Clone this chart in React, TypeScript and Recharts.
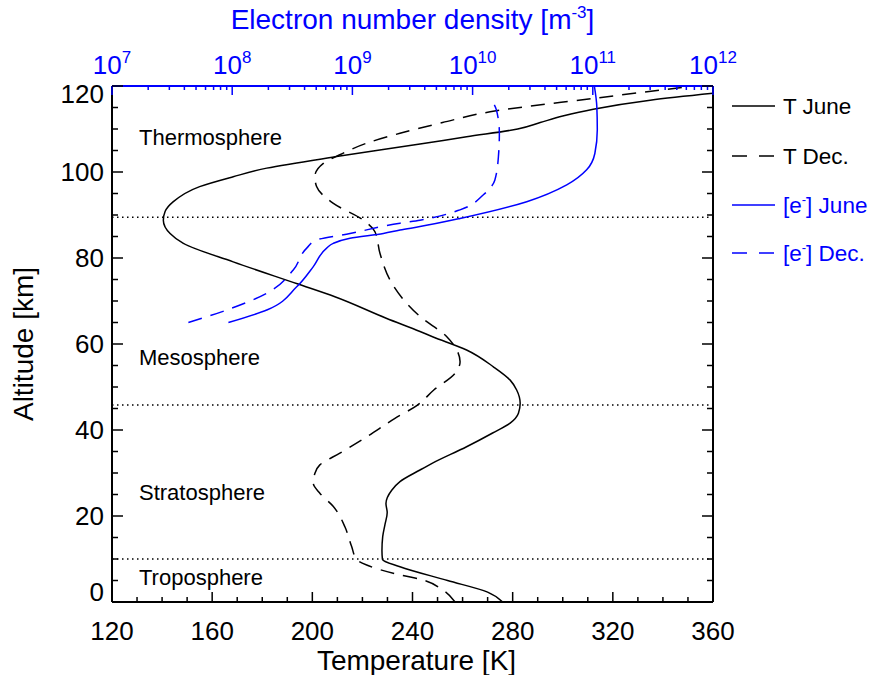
import React from 'react';
import { ComposedChart, Line, XAxis, YAxis, ReferenceLine } from 'recharts';

const BLUE = '#0000ff';
const FONT = '"Liberation Sans", Arial, Helvetica, sans-serif';

// ---- Temperature, June (altitude km / temperature K)
const tJuneAlt = [0, 2.3, 5, 8.2, 9.9, 12, 15.2, 18, 20.8, 22.9, 26, 28, 30.7, 32.3, 36.1, 39.3, 41.6, 43.9, 46.2, 49.3, 51.6, 54.7, 58.6, 61.7, 62.9, 66, 71, 74, 79.1, 83.4, 85.7, 88.8, 90.8, 93.1, 96.6, 98.9, 100.9, 103.7, 106.5, 108.2, 110, 111.5, 113, 114.6, 116.7, 118.3];
const tJuneK = [276, 270, 254, 235, 228, 227.8, 228.1, 229, 229.9, 229.4, 231.7, 235, 243, 248, 261.6, 272, 279, 282.3, 283, 281.6, 279, 272.3, 261.6, 248, 243, 229.5, 209, 194, 168.4, 148.5, 143.2, 140.5, 141.2, 144.5, 155, 168.4, 181.8, 211, 243, 261.6, 282, 291, 300, 312.2, 334.9, 360];

// ---- Temperature, December
const tDecAlt = [0, 2.8, 5.3, 6.3, 8.6, 9.9, 12.9, 17.5, 22.2, 25.3, 27.6, 29.9, 31.9, 34.6, 38.4, 42.7, 45.8, 49.3, 53.2, 55.9, 58.6, 61.7, 66.4, 70.6, 74.9, 81.1, 86.1, 88.8, 92.7, 96.6, 98.9, 102, 104, 106.7, 109, 111.5, 114, 117.1, 119.8];
const tDecK = [257, 252, 243, 235, 221.7, 217.7, 215.7, 213, 208.4, 203, 200.4, 201, 203, 211, 221.7, 233, 242, 248.5, 257, 259, 257.7, 253.7, 243, 236, 231, 227, 225, 220.4, 208.4, 201.7, 201, 204.4, 211, 221.7, 235, 252, 271, 312, 349.5];

// ---- Electron number density, June (m^-3)
const eJuneAlt = [65, 67.9, 73.3, 78, 82.3, 83.4, 84.6, 85.7, 86.5, 87.3, 89.2, 93.1, 97, 100.5, 104.3, 109.8, 115.2, 120];
const eJuneNe = [9.3e7, 1.94e8, 3.44e8, 4.73e8, 6.11e8, 6.93e8, 9.55e8, 1.81e9, 2.49e9, 3.65e9, 7.85e9, 2.82e10, 6.07e10, 8.89e10, 1.04e11, 1.09e11, 1.08e11, 1.03e11];

// ---- Electron number density, December
const eDecAlt = [65, 67.9, 71.8, 77.2, 82.3, 84.2, 85.7, 88.1, 88.8, 91.2, 94.7, 98.1, 103.6, 109, 114.4, 116.7];
const eDecNe = [4.32e7, 9.0e7, 1.94e8, 3.22e8, 4.17e8, 5.05e8, 9.55e8, 2.49e9, 3.65e9, 7.85e9, 1.23e10, 1.53e10, 1.64e10, 1.67e10, 1.58e10, 1.44e10];

// ---- Axes
const tempMajor = [120, 160, 200, 240, 280, 320, 360];
const altMajor = [0, 20, 40, 60, 80, 100, 120];
const neDecades = [7, 8, 9, 10, 11, 12];

// ---- Annotations
const regionNames = ['Thermosphere', 'Mesosphere', 'Stratosphere', 'Troposphere'];
const regionAlts = [108, 57, 25.6, 5.8];
const boundaryAlts = [89.5, 45.8, 10];

const legendLabels = ['T June', 'T Dec.', '[e] June', '[e] Dec.'];

const tempTicks: number[] = [];
for (let t = 120; t <= 360; t += 10) tempTicks.push(t);
const altTicks: number[] = [];
for (let a = 0; a <= 120; a += 5) altTicks.push(a);
const neTicks: number[] = [];
neDecades.forEach((d, i) => {
  if (i < neDecades.length - 1) {
    for (let m = 1; m <= 9; m++) neTicks.push(m * Math.pow(10, d));
  } else neTicks.push(Math.pow(10, d));
});

const zip = (alts: number[], vals: number[]) => alts.map((alt, i) => ({ alt, v: vals[i] }));
const tJuneData = zip(tJuneAlt, tJuneK);
const tDecData = zip(tDecAlt, tDecK);
const eJuneData = zip(eJuneAlt, eJuneNe);
const eDecData = zip(eDecAlt, eDecNe);

const BottomTick = (props: any) => {
  const { x, y, payload } = props;
  const v = payload.value;
  const major = tempMajor.includes(v);
  return (
    <g>
      <line x1={x} x2={x} y1={y} y2={y - (major ? 10 : 5)} stroke="#000" strokeWidth={1.5} />
      {major && (
        <text x={x} y={y + 38} textAnchor="middle" fontSize={26} fill="#000" fontFamily={FONT}>
          {v}
        </text>
      )}
    </g>
  );
};

const TopTick = (props: any) => {
  const { x, y, payload } = props;
  const v = payload.value;
  const lg = Math.log10(v);
  const major = Math.abs(lg - Math.round(lg)) < 1e-6;
  return (
    <g>
      <line x1={x} x2={x} y1={y} y2={y + (major ? 9 : 4)} stroke={BLUE} strokeWidth={1.5} />
      {major && (
        <text x={x} y={y - 12} textAnchor="middle" fontSize={26} fill={BLUE} fontFamily={FONT}>
          10
          <tspan dy={-11} fontSize={17}>{Math.round(lg)}</tspan>
        </text>
      )}
    </g>
  );
};

const LeftTick = (props: any) => {
  const { x, y, payload } = props;
  const v = payload.value;
  const major = altMajor.includes(v);
  const shift = v === 120 ? 8 : v === 0 ? -10 : 0;
  return (
    <g>
      <line x1={x} x2={x + (major ? 11 : 6)} y1={y} y2={y} stroke="#000" strokeWidth={1.5} />
      {major && (
        <text x={x - 8} y={y + shift + 9} textAnchor="end" fontSize={26} fill="#000" fontFamily={FONT}>
          {v}
        </text>
      )}
    </g>
  );
};

const RightTick = (props: any) => {
  const { x, y, payload } = props;
  const major = altMajor.includes(payload.value);
  return <line x1={x} x2={x - (major ? 11 : 6)} y1={y} y2={y} stroke="#000" strokeWidth={1.5} />;
};

const TempTitle = (props: any) => {
  const vb = props.viewBox || { x: 112, y: 602, width: 601 };
  return (
    <text x={vb.x + vb.width / 2 + 4} y={vb.y + 68} textAnchor="middle" fontSize={28} fill="#000" fontFamily={FONT}>
      Temperature [K]
    </text>
  );
};

const NeTitle = (props: any) => {
  const vb = props.viewBox || { x: 112, y: 85, width: 601 };
  return (
    <text x={vb.x + vb.width / 2} y={vb.y - 56} textAnchor="middle" fontSize={28} fill={BLUE} fontFamily={FONT}>
      Electron number density [m
      <tspan dy={-11} fontSize={17}>-3</tspan>
      <tspan dy={11}>]</tspan>
    </text>
  );
};

const AltTitle = (props: any) => {
  const vb = props.viewBox || { x: 111, y: 86, height: 516 };
  const cx = 33;
  const cy = vb.y + vb.height / 2;
  return (
    <text x={cx} y={cy} transform={`rotate(-90 ${cx} ${cy})`} textAnchor="middle" fontSize={28} fill="#000" fontFamily={FONT}>
      Altitude [km]
    </text>
  );
};

const legendStyles = [
  { stroke: '#000', dash: undefined as string | undefined },
  { stroke: '#000', dash: '15 12' },
  { stroke: BLUE, dash: undefined },
  { stroke: BLUE, dash: '15 12' },
];
const legendRowY = [106, 156, 205, 253];

const LegendBox = () => (
  <svg width={150} height={200} style={{ position: 'absolute', left: 722, top: 80 }}>
    {legendLabels.map((lab, i) => {
      const cy = legendRowY[i] - 80;
      const s = legendStyles[i];
      const isE = lab.startsWith('[e]');
      return (
        <g key={lab}>
          <line x1={10} x2={53} y1={cy} y2={cy} stroke={s.stroke} strokeWidth={1.5} strokeDasharray={s.dash} />
          <text x={61} y={cy + 8} fontSize={22.5} fill={s.stroke} fontFamily={FONT}>
            {isE ? (
              <>
                [e<tspan dy={-9} fontSize={13}>-</tspan>
                <tspan dy={9}>{lab.slice(2)}</tspan>
              </>
            ) : (
              lab
            )}
          </text>
        </g>
      );
    })}
  </svg>
);

export default function App() {
  return (
    <div style={{ position: 'absolute', left: 0, top: 0, width: 872, height: 675, fontFamily: FONT, background: '#fff' }}>
      <ComposedChart
        width={872}
        height={675}
        layout="vertical"
        margin={{ top: 85, right: 158, bottom: 72, left: 111 }}
      >
        <XAxis
          xAxisId="temp"
          type="number"
          orientation="bottom"
          domain={[120, 360]}
          allowDataOverflow
          ticks={tempTicks}
          interval={0}
          height={1}
          tickSize={0}
          tickMargin={0}
          tickLine={false}
          tick={<BottomTick />}
          axisLine={{ stroke: '#000', strokeWidth: 2 }}
          label={(p: any) => <TempTitle {...p} />}
        />
        <XAxis
          xAxisId="ne"
          type="number"
          orientation="top"
          scale="log"
          domain={[1e7, 1e12]}
          allowDataOverflow
          ticks={neTicks}
          interval={0}
          height={1}
          tickSize={0}
          tickMargin={0}
          tickLine={false}
          tick={<TopTick />}
          axisLine={{ stroke: BLUE, strokeWidth: 2 }}
          label={(p: any) => <NeTitle {...p} />}
        />
        <YAxis
          yAxisId="left"
          type="number"
          dataKey="alt"
          orientation="left"
          reversed
          domain={[0, 120]}
          allowDataOverflow
          ticks={altTicks}
          interval={0}
          width={1}
          tickSize={0}
          tickMargin={0}
          tickLine={false}
          tick={<LeftTick />}
          axisLine={{ stroke: '#000', strokeWidth: 2 }}
          label={(p: any) => <AltTitle {...p} />}
        />
        <YAxis
          yAxisId="right"
          type="number"
          dataKey="alt"
          orientation="right"
          reversed
          domain={[0, 120]}
          allowDataOverflow
          ticks={altTicks}
          interval={0}
          width={1}
          tickSize={0}
          tickMargin={0}
          tickLine={false}
          tick={<RightTick />}
          axisLine={{ stroke: '#000', strokeWidth: 2 }}
        />

        {boundaryAlts.map((a) => (
          <ReferenceLine
            key={'b' + a}
            xAxisId="temp"
            yAxisId="left"
            y={a}
            stroke="#000"
            strokeWidth={1.5}
            strokeDasharray="1.5 3.5"
          />
        ))}
        {regionNames.map((name, i) => (
          <ReferenceLine
            key={name}
            xAxisId="temp"
            yAxisId="left"
            y={regionAlts[i]}
            stroke="none"
            label={{ value: name, position: 'insideLeft', offset: 27, fill: '#000', fontSize: 22, fontFamily: FONT }}
          />
        ))}

        <Line
          data={tJuneData}
          xAxisId="temp"
          yAxisId="left"
          dataKey="v"
          type="monotone"
          stroke="#000"
          strokeWidth={1.5}
          dot={false}
          activeDot={false}
          isAnimationActive={false}
        />
        <Line
          data={tDecData}
          xAxisId="temp"
          yAxisId="left"
          dataKey="v"
          type="monotone"
          stroke="#000"
          strokeWidth={1.5}
          strokeDasharray="14 9"
          dot={false}
          activeDot={false}
          isAnimationActive={false}
        />
        <Line
          data={eJuneData}
          xAxisId="ne"
          yAxisId="left"
          dataKey="v"
          type="monotone"
          stroke={BLUE}
          strokeWidth={1.5}
          dot={false}
          activeDot={false}
          isAnimationActive={false}
        />
        <Line
          data={eDecData}
          xAxisId="ne"
          yAxisId="left"
          dataKey="v"
          type="monotone"
          stroke={BLUE}
          strokeWidth={1.5}
          strokeDasharray="14 9"
          dot={false}
          activeDot={false}
          isAnimationActive={false}
        />
      </ComposedChart>
      <LegendBox />
    </div>
  );
}
